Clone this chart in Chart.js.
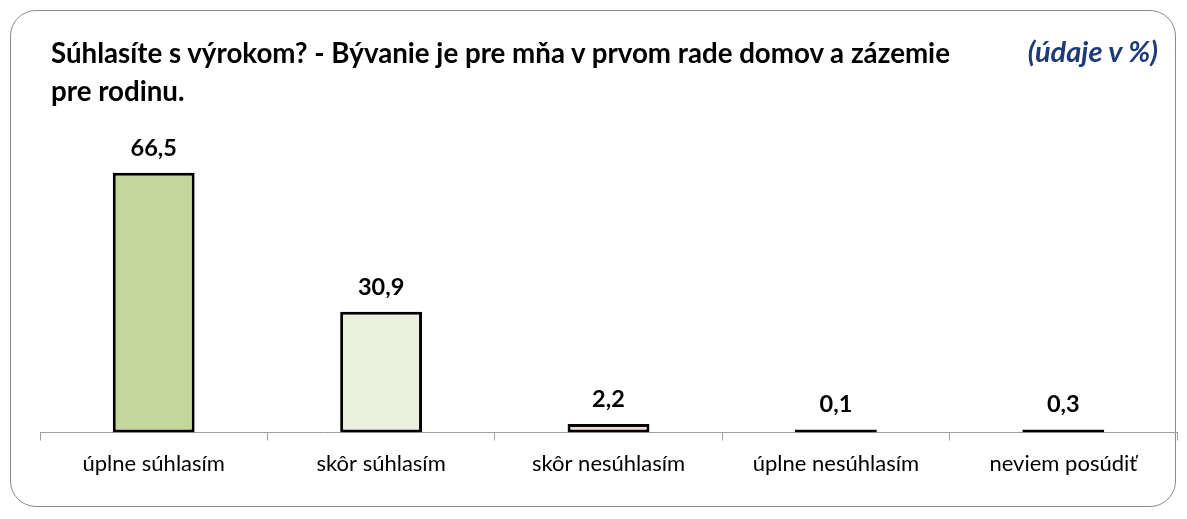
<!DOCTYPE html>
<html>
<head>
<meta charset="utf-8">
<script src="https://cdn.jsdelivr.net/npm/chart.js@4"></script>
<style>
    html, body { margin: 0; padding: 0; background: #fff; }
    #wrap { position: relative; width: 1187px; height: 519px; }
    #frame {
        position: absolute; left: 10px; top: 10px; width: 1166px; height: 497px;
        border: 1px solid #8c8c8c; border-radius: 26px; box-sizing: border-box;
    }
    #title {
        position: absolute; left: 51px; top: 34px;
        font: bold 27.7px Lato, sans-serif; line-height: 38px; color: #000;
        white-space: nowrap;
    }
    #unit {
        position: absolute; right: 29px; top: 33px;
        font: italic bold 29px Lato, sans-serif; color: #1f3a78;
    }
    canvas { position: absolute; left: 0; top: 0; }
</style>
</head>
<body>
<div id="wrap">
    <div id="frame"></div>
    <canvas id="chart" width="1187" height="519"></canvas>
    <div id="title">Súhlasíte s výrokom? - Bývanie je pre mňa v prvom rade domov a zázemie<br>pre rodinu.</div>
    <div id="unit">(údaje v %)</div>
</div>
<script>
const categories = ['úplne súhlasím', 'skôr súhlasím', 'skôr nesúhlasím', 'úplne nesúhlasím', 'neviem posúdiť'];
const values = [66.5, 30.9, 2.2, 0.1, 0.3];
const barColors = ['#c4d79b', '#ebf1de', '#f2dcdb', '#dce6f2', '#d9d9d9'];

// value labels above bars, decimal comma
const valueLabels = {
    id: 'valueLabels',
    afterDatasetsDraw(chart) {
        const ctx = chart.ctx;
        const meta = chart.getDatasetMeta(0);
        ctx.save();
        ctx.font = 'bold 23.5px Lato, sans-serif';
        ctx.fillStyle = '#000';
        ctx.textAlign = 'center';
        ctx.textBaseline = 'bottom';
        meta.data.forEach(function(bar, i) {
            ctx.fillText(values[i].toFixed(1).replace('.', ','), bar.x, bar.y - 13);
        });
        ctx.restore();
    }
};

new Chart(document.getElementById('chart').getContext('2d'), {
    type: 'bar',
    data: {
        labels: categories,
        datasets: [{
            data: values,
            backgroundColor: barColors,
            borderColor: '#000',
            borderWidth: 3,
            borderSkipped: false,
            minBarLength: 3,
            barPercentage: 0.72,
            categoryPercentage: 0.5
        }]
    },
    options: {
        responsive: false,
        animation: false,
        layout: { padding: { left: 40, right: 10, top: 120, bottom: 32 } },
        plugins: {
            legend: { display: false },
            tooltip: { enabled: false }
        },
        scales: {
            y: { display: false, min: 0, max: 80 },
            x: {
                border: { display: true, color: '#a0a0a0', width: 1 },
                grid: { drawOnChartArea: false, drawTicks: true, tickLength: 8, color: '#a0a0a0' },
                ticks: { color: '#000', font: { family: 'Lato', size: 22 }, padding: 10 }
            }
        }
    },
    plugins: [valueLabels]
});
</script>
</body>
</html>
